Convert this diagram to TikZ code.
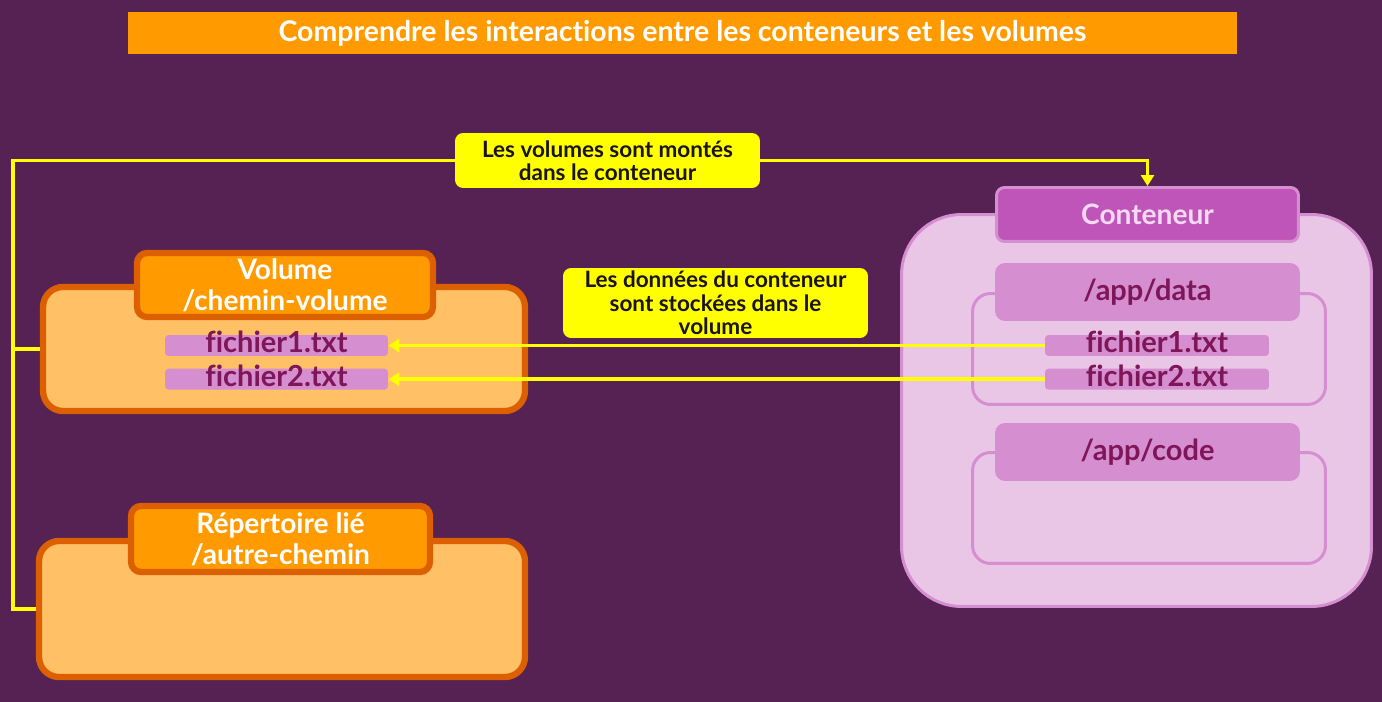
\documentclass[tikz,border=0pt]{standalone}
\usepackage{fontspec}
\setsansfont{Lato}[Ligatures=NoCommon]
\usetikzlibrary{arrows.meta,positioning}
\definecolor{bgpurple}{HTML}{562153}
\definecolor{titleorange}{HTML}{FF9A00}
\definecolor{volfill}{HTML}{FFC066}
\definecolor{volline}{HTML}{DD6000}
\definecolor{filepink}{HTML}{D58ED0}
\definecolor{filetext}{HTML}{7E1657}
\definecolor{ctrfill}{HTML}{EAC6E6}
\definecolor{ctrheadfill}{HTML}{BF55B8}
\definecolor{ctrtext}{HTML}{F7D9F3}
\definecolor{linkyellow}{HTML}{FFFF00}
\definecolor{notetext}{HTML}{1A1414}

\begin{document}
\begin{tikzpicture}[x=0.02cm, y=-0.02cm, >={Triangle[length=2.2mm, width=2.6mm]},
  font=\sffamily\bfseries,
  every node/.style={inner sep=0pt, align=center},
  titlebar/.style={fill=titleorange, text=white, font=\sffamily\bfseries\fontsize{16.2}{19}\selectfont},
  volbox/.style={draw=volline, line width=3.6pt, fill=volfill, rounded corners=0.4cm},
  volhead/.style={draw=volline, line width=3.6pt, fill=titleorange, rounded corners=0.2cm, text=white, font=\sffamily\bfseries\fontsize{16}{17.6}\selectfont},
  filebox/.style={fill=filepink, rounded corners=2pt, text=filetext, minimum height=0.42cm, text height=10pt, text depth=1.7pt, font=\sffamily\bfseries\fontsize{16.5}{18}\selectfont},
  ctrbox/.style={draw=filepink, line width=1.7pt, fill=ctrfill, rounded corners=1.2cm},
  ctrhead/.style={draw=filepink, line width=1.7pt, fill=ctrheadfill, rounded corners=0.16cm, text=ctrtext, font=\sffamily\bfseries\fontsize{16}{17.6}\selectfont},
  grpframe/.style={draw=filepink, line width=1.7pt, rounded corners=0.36cm, minimum width=7.06cm, minimum height=2.22cm},
  grphead/.style={fill=filepink, rounded corners=0.2cm, text=filetext, minimum width=6.1cm, minimum height=1.16cm, font=\sffamily\bfseries\fontsize{16.5}{18}\selectfont},
  note/.style={fill=linkyellow, rounded corners=0.16cm, text=notetext, minimum width=6.1cm, font=\sffamily\bfseries\fontsize{12.8}{13.3}\selectfont},
  link/.style={draw=linkyellow, line width=2pt}]

\fill[bgpurple] (0,0) rectangle (1382,702);
\node[titlebar, minimum width=22.18cm, minimum height=0.84cm] (title) at (682.5,33) {Comprendre les interactions entre les conteneurs et les volumes};

% volume
\node[volbox, minimum width=9.64cm, minimum height=2.48cm] (vol) at (284,349) {};
\node[volhead, minimum width=5.92cm, minimum height=1.28cm] (volhd) at (285,285) {Volume\\/chemin-volume};
\node[filebox, minimum width=4.46cm] (vf1) at (276.5,345.5) {fichier1.txt};
\node[filebox, minimum width=4.46cm, below=0.24cm of vf1] (vf2) {fichier2.txt};

% bind mount
\node[volbox, minimum width=9.72cm, minimum height=2.72cm] (rep) at (282,609) {};
\node[volhead, minimum width=5.98cm, minimum height=1.32cm] (rephd) at (280.5,539) {Répertoire lié\\/autre-chemin};

% container
\node[ctrbox, minimum width=9.4cm, minimum height=7.84cm] (ctr) at (1136.5,410.5) {};
\node[ctrhead, minimum width=6.04cm, minimum height=1.08cm] (ctrhd) at (1147.5,214.5) {Conteneur};
\node[grpframe] (datafr) at (1149,349) {};
\node[grphead] (datahd) at (1147.5,292) {/app/data};
\node[filebox, minimum width=4.48cm] (cf1) at (1157,345.5) {fichier1.txt};
\node[filebox, minimum width=4.48cm, below=0.24cm of cf1] (cf2) {fichier2.txt};
\node[grpframe] (codefr) at (1149,508) {};
\node[grphead] (codehd) at (1147.5,452) {/app/code};

% notes
\node[note, minimum height=1.1cm] (note1) at (607.5,160.5) {Les volumes sont montés\\dans le conteneur};
\node[note, minimum height=1.4cm] (note2) at (715.5,303) {Les données du conteneur\\sont stockées dans le\\volume};

\draw[link] (vol.west) -- ++(-27,0) coordinate (bend) |- (note1.west);
\draw[link] (rep.west) -| (bend);
\draw[link,->] (note1.east) -| (ctrhd.north);
\draw[link,->] (cf1.west) -- (vf1.east);
\draw[link,->] (cf2.west) -- (vf2.east);
\end{tikzpicture}
\end{document}
